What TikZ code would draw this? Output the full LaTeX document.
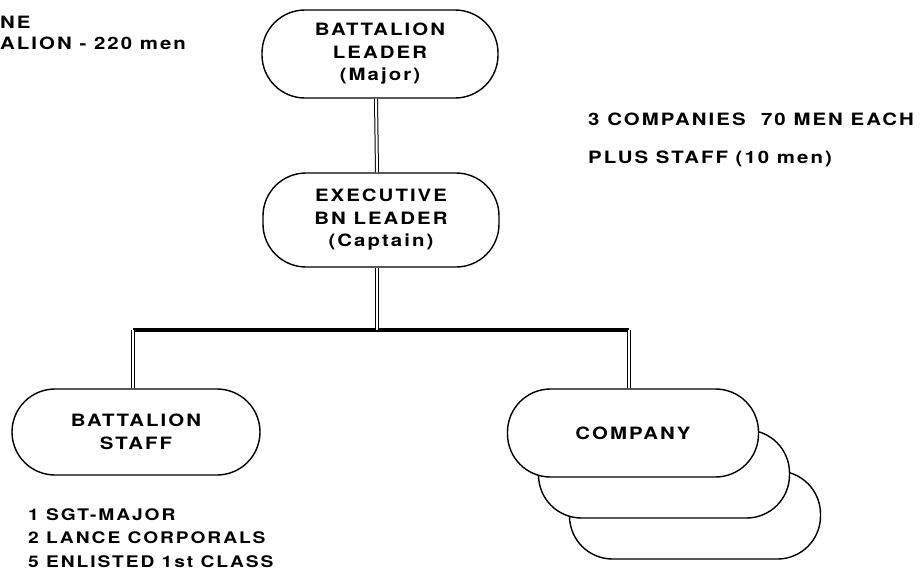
\documentclass[tikz,border=0pt]{standalone}
\usepackage{fontspec}
\setmainfont{TeX Gyre Heros}[FakeStretch=1.2, LetterSpace=12]
\begin{document}
\begin{tikzpicture}[x=1pt,y=-1pt,
  box/.style={draw, line width=1.4pt, rounded corners=43pt, align=center, fill=white, inner sep=0pt,
    font=\fontsize{17}{22.5}\selectfont\bfseries},
  link/.style={double, line width=1pt, double distance=2pt},
  hlink/.style={line width=3.2pt},
  note/.style={anchor=west, align=left, inner sep=0pt, font=\fontsize{16}{23.5}\selectfont\bfseries},
  bignote/.style={note, font=\fontsize{17}{23.5}\selectfont\bfseries}]
\useasboundingbox (0,0) rectangle (921,576);
% top boxes
\node[box, minimum width=236pt, minimum height=88pt] (bl) at (380,54) {BATTALION\\LEADER\\(Major)};
\node[box, minimum width=236pt, minimum height=94pt] (ex) at (381,220) {EXECUTIVE\\BN LEADER\\(Captain)};
% staff
\node[box, minimum width=248pt, minimum height=86pt] (st) at (136,432) {BATTALION\\STAFF};
% companies
\node[box, minimum width=251pt, minimum height=88pt] (c3) at (695,515) {};
\node[box, minimum width=251pt, minimum height=88pt] (c2) at (664,474) {};
\node[box, minimum width=251pt, minimum height=88pt] (co) at (633,433) {COMPANY};
% connectors
\coordinate (j) at ([xshift=-4pt]ex.south |- 0,330);
\draw[hlink] ([xshift=-3pt]st.north |- j) -- ([xshift=-4pt]co.north |- j);
\draw[link] ([xshift=-3pt]st.north) -- ([xshift=-3pt]st.north |- j);
\draw[link] ([xshift=-4pt]co.north) -- ([xshift=-4pt]co.north |- j);
\draw[link] ([xshift=-4pt]bl.south) -- ([xshift=-4pt]ex.north);
\draw[link] ([xshift=-4pt]ex.south) -- (j);
% notes
\node[bignote] (t1) at (0,22) {NE};
\node[bignote] (t2) at (0,43) {ALION - 220 men};
\node[bignote] (r1) at (588,119) {3 COMPANIES\ \ 70 MEN EACH};
\node[bignote] (r2) at (588,159) {PLUS STAFF (10 men)};
\node[note] (sl) at (28,538) {1 SGT-MAJOR\\2 LANCE CORPORALS\\5 ENLISTED 1st CLASS};
\end{tikzpicture}
\end{document}
